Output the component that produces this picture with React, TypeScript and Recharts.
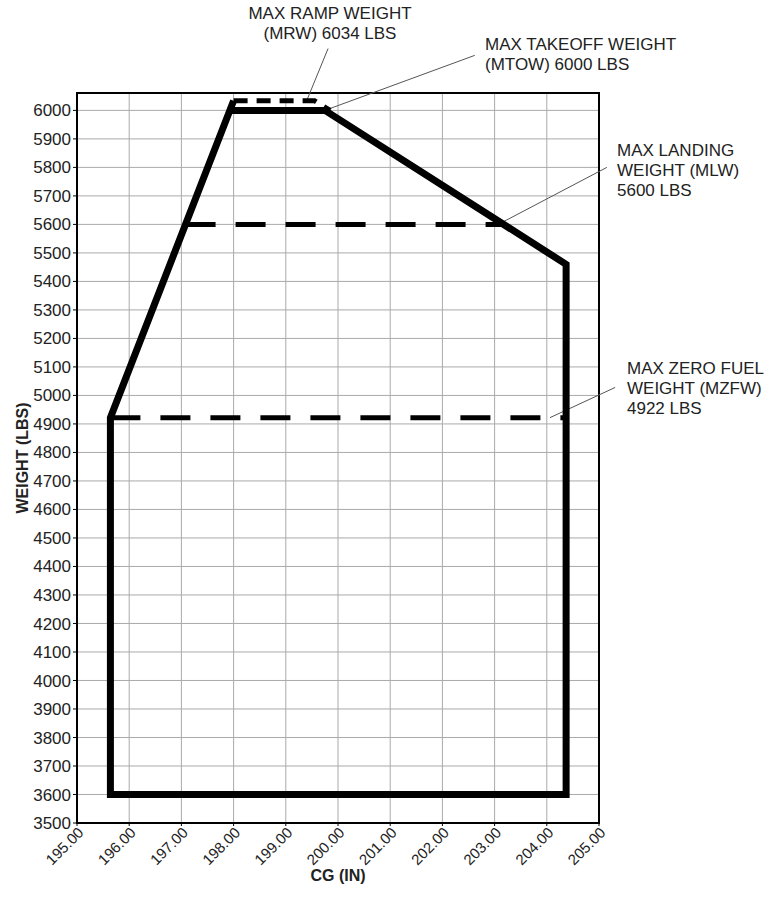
import {
  ComposedChart,
  Line,
  XAxis,
  YAxis,
  CartesianGrid,
  ReferenceArea,
  ReferenceLine,
} from 'recharts';

// CG envelope outline (solid), drawn as one path
const envelope = [
  { x: 198.0, y: 6034 },
  { x: 195.64, y: 4922 },
  { x: 195.64, y: 3600 },
  { x: 204.37, y: 3600 },
  { x: 204.37, y: 5460 },
  { x: 199.75, y: 6000 },
  { x: 197.93, y: 6000 },
];

// dashed weight limits
const rampLimit = [
  { x: 198.0, y: 6034 },
  { x: 199.55, y: 6034 },
  { x: 199.85, y: 6000 },
];
const landingLimit = [
  { x: 197.08, y: 5600 },
  { x: 203.17, y: 5600 },
];
const zeroFuelLimit = [
  { x: 195.64, y: 4922 },
  { x: 204.37, y: 4922 },
];

const cgTicks = [195, 196, 197, 198, 199, 200, 201, 202, 203, 204, 205];
const weightTicks = [
  3500, 3600, 3700, 3800, 3900, 4000, 4100, 4200, 4300, 4400, 4500, 4600, 4700,
  4800, 4900, 5000, 5100, 5200, 5300, 5400, 5500, 5600, 5700, 5800, 5900, 6000,
];

// leader lines: label end -> point on the chart
const leaders = [
  [{ x: 199.81, y: 6217 }, { x: 199.4, y: 6034 }],
  [{ x: 202.62, y: 6193 }, { x: 199.75, y: 6000 }],
  [{ x: 205.15, y: 5800 }, { x: 203.07, y: 5600 }],
  [{ x: 205.31, y: 5028 }, { x: 204.06, y: 4922 }],
];

const font = '"Liberation Sans", Arial, sans-serif';

const noteStyle: React.CSSProperties = {
  position: 'absolute',
  fontFamily: font,
  fontSize: 17,
  lineHeight: '20px',
  color: '#222',
  whiteSpace: 'nowrap',
};

export default function App() {
  return (
    <div style={{ position: 'absolute', left: 0, top: 0, width: 768, height: 905, background: '#fff', fontFamily: font }}>
      <ComposedChart width={768} height={905} margin={{ top: 93, right: 169, bottom: 0, left: 0 }}>
        <CartesianGrid stroke="#aaa" strokeWidth={1} />
        <XAxis
          type="number"
          dataKey="x"
          domain={[195, 205]}
          ticks={cgTicks}
          tickFormatter={(v: number) => v.toFixed(2)}
          height={82}
          angle={-45}
          textAnchor="end"
          tickSize={3}
          tickMargin={0}
          tick={{ fill: '#222', fontSize: 15, fontFamily: font }}
          stroke="#000"
          allowDataOverflow
          label={{ value: 'CG (IN)', position: 'insideBottom', offset: 24, fill: '#222', fontSize: 16, fontWeight: 'bold', fontFamily: font }}
        />
        <YAxis
          type="number"
          dataKey="y"
          domain={[3500, 6061]}
          ticks={weightTicks}
          width={77}
          tickSize={4}
          tick={{ fill: '#222', fontSize: 17, fontFamily: font }}
          stroke="#000"
          allowDataOverflow
          label={{ value: 'WEIGHT (LBS)', angle: -90, position: 'insideLeft', offset: 22, style: { textAnchor: 'middle' }, fill: '#222', fontSize: 16, fontWeight: 'bold', fontFamily: font }}
        />
        <ReferenceArea x1={195} x2={205} y1={3500} y2={6061} fill="none" stroke="#000" strokeWidth={2} ifOverflow="visible" />
        {leaders.map((seg, i) => (
          <ReferenceLine key={i} segment={seg} stroke="#555" strokeWidth={1} ifOverflow="visible" />
        ))}
        <Line data={zeroFuelLimit} dataKey="y" type="linear" stroke="#000" strokeWidth={5} strokeDasharray="30 20" dot={false} isAnimationActive={false} legendType="none" />
        <Line data={landingLimit} dataKey="y" type="linear" stroke="#000" strokeWidth={5} strokeDasharray="30 20" dot={false} isAnimationActive={false} legendType="none" />
        <Line data={rampLimit} dataKey="y" type="linear" stroke="#000" strokeWidth={5} strokeDasharray="14 9" dot={false} isAnimationActive={false} legendType="none" />
        <Line data={envelope} dataKey="y" type="linear" stroke="#000" strokeWidth={7} strokeLinejoin="miter" dot={false} isAnimationActive={false} legendType="none" />
      </ComposedChart>

      <div style={{ ...noteStyle, left: 230, top: 4, width: 200, textAlign: 'center' }}>
        MAX RAMP WEIGHT
        <br />
        (MRW) 6034 LBS
      </div>
      <div style={{ ...noteStyle, left: 485, top: 35 }}>
        MAX TAKEOFF WEIGHT
        <br />
        (MTOW) 6000 LBS
      </div>
      <div style={{ ...noteStyle, left: 617, top: 141 }}>
        MAX LANDING
        <br />
        WEIGHT (MLW)
        <br />
        5600 LBS
      </div>
      <div style={{ ...noteStyle, left: 627, top: 359 }}>
        MAX ZERO FUEL
        <br />
        WEIGHT (MZFW)
        <br />
        4922 LBS
      </div>
    </div>
  );
}
